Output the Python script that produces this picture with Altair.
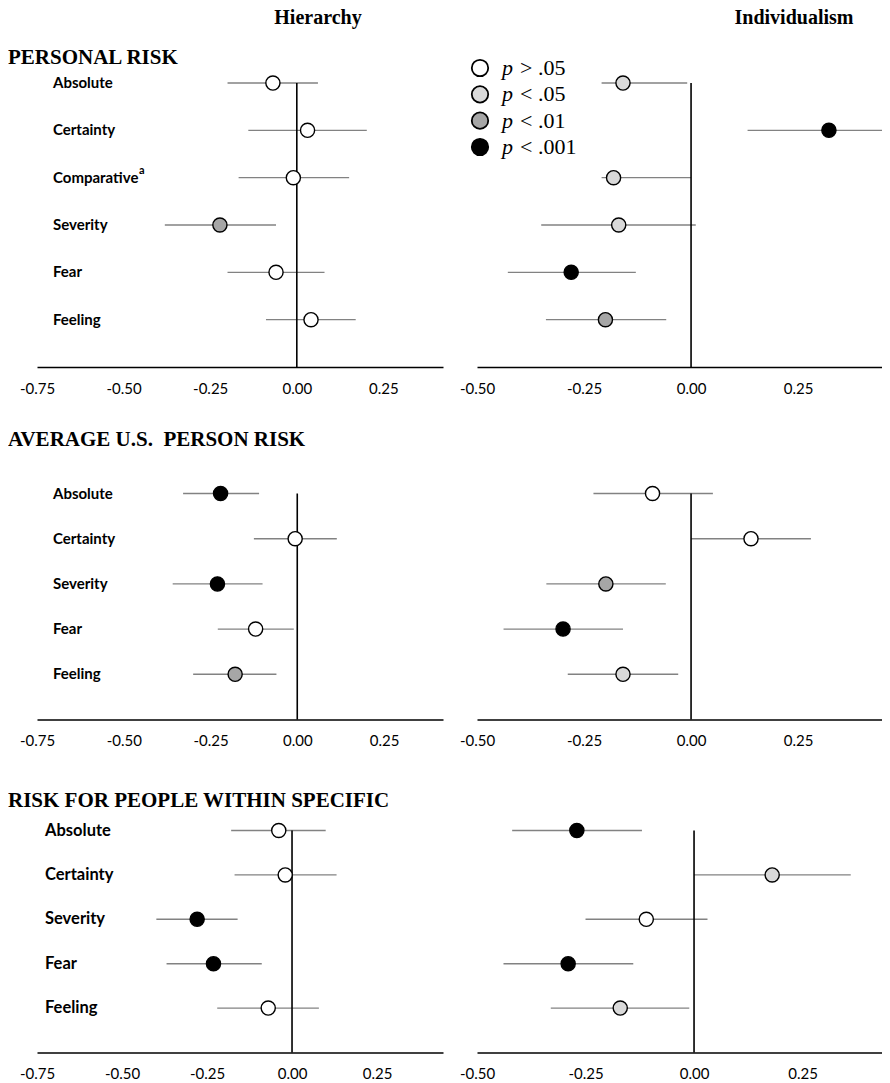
import altair as alt
import pandas as pd

# ---------------- data ----------------
col_headers = ["Hierarchy", "Individualism"]
row_titles = ["PERSONAL RISK", "AVERAGE U.S.\u00a0 PERSON RISK", "RISK FOR PEOPLE WITHIN SPECIFIC"]

cats_personal = ["Absolute", "Certainty", "Comparative", "Severity", "Fear", "Feeling"]
notes_personal = ["", "", "a", "", "", ""]
cats_other = ["Absolute", "Certainty", "Severity", "Fear", "Feeling"]

sig_levels = ["p > .05", "p < .05", "p < .01", "p < .001"]
sig_fill = ["#ffffff", "#d9d9d9", "#a6a6a6", "#000000"]
legend_rest = ["> .05", "< .05", "< .01", "< .001"]

# Personal risk
hier_pers_est = [-0.069, 0.031, -0.010, -0.222, -0.060, 0.041]
hier_pers_lo = [-0.200, -0.140, -0.168, -0.381, -0.200, -0.089]
hier_pers_hi = [0.061, 0.202, 0.151, -0.060, 0.080, 0.170]
hier_pers_sig = ["p > .05", "p > .05", "p > .05", "p < .01", "p > .05", "p > .05"]

ind_pers_est = [-0.159, 0.322, -0.181, -0.169, -0.280, -0.200]
ind_pers_lo = [-0.209, 0.132, -0.209, -0.350, -0.428, -0.339]
ind_pers_hi = [-0.009, 0.510, 0.000, 0.011, -0.129, -0.058]
ind_pers_sig = ["p < .05", "p < .001", "p < .05", "p < .05", "p < .001", "p < .01"]

# Average U.S. person risk
hier_avg_est = [-0.221, -0.006, -0.230, -0.120, -0.179]
hier_avg_lo = [-0.329, -0.125, -0.359, -0.229, -0.300]
hier_avg_hi = [-0.110, 0.114, -0.100, -0.010, -0.060]
hier_avg_sig = ["p < .001", "p > .05", "p < .001", "p > .05", "p < .01"]

ind_avg_est = [-0.090, 0.140, -0.199, -0.299, -0.159]
ind_avg_lo = [-0.228, 0.000, -0.338, -0.438, -0.288]
ind_avg_hi = [0.051, 0.280, -0.059, -0.159, -0.030]
ind_avg_sig = ["p > .05", "p > .05", "p < .01", "p < .001", "p < .05"]

# Risk for people within specific
hier_spec_est = [-0.039, -0.020, -0.279, -0.231, -0.070]
hier_spec_lo = [-0.179, -0.169, -0.399, -0.369, -0.220]
hier_spec_hi = [0.099, 0.131, -0.160, -0.089, 0.079]
hier_spec_sig = ["p > .05", "p > .05", "p < .001", "p < .001", "p > .05"]

ind_spec_est = [-0.270, 0.180, -0.110, -0.290, -0.170]
ind_spec_lo = [-0.419, 0.000, -0.250, -0.439, -0.330]
ind_spec_hi = [-0.120, 0.361, 0.031, -0.140, -0.011]
ind_spec_sig = ["p < .001", "p < .05", "p > .05", "p < .001", "p < .05"]

tick_values_left = [-0.75, -0.50, -0.25, 0.00, 0.25]
tick_values_right = [-0.50, -0.25, 0.00, 0.25]

# ---------------- layout ----------------
LW, RW = 406, 405
HSPACE = 34
VSPACE = 60
SANS = "Lato"
SERIF = "Liberation Serif"

fill_scale = alt.Scale(domain=sig_levels, range=sig_fill)
label_expr = "(datum.value < 0 ? '-' : '') + format(abs(datum.value), '.2f')"


def panel(cats, est, lo, hi, sig, xdomain, ticks, width, height, offset, spacing,
          label_x=None, label_size=15, notes=None, note_x=None,
          title=None, header=None, header_x=None, legend=False):
    n = len(cats)
    df = pd.DataFrame({"cat": cats, "idx": list(range(n)), "est": est,
                       "lo": lo, "hi": hi, "sig": sig})
    d0 = -offset / spacing
    yscale = alt.Scale(domain=[d0, n], reverse=True, nice=False, zero=False)
    xscale = alt.Scale(domain=xdomain, nice=False, zero=False)
    axis = alt.Axis(values=ticks, labelExpr=label_expr, ticks=False, tickSize=0,
                    grid=False, domainColor="black", domainWidth=1.5, title=None,
                    labelFont=SANS, labelFontSize=15, labelColor="black",
                    labelPadding=14, labelFlush=False, labelOverlap=False)
    base = alt.Chart(df)
    bars = base.mark_rule(color="#828282", strokeWidth=1.4, clip=True).encode(
        x=alt.X("lo:Q", scale=xscale, axis=axis), x2="hi:Q",
        y=alt.Y("idx:Q", scale=yscale, axis=None))
    zdf = pd.DataFrame({"z": [0.0], "top": [0], "bottom": [n]})
    zero = alt.Chart(zdf).mark_rule(color="black", strokeWidth=1.6).encode(
        x=alt.X("z:Q", scale=xscale, axis=axis),
        y=alt.Y("top:Q", scale=yscale, axis=None), y2="bottom:Q")
    pts = base.mark_circle(size=200, opacity=1, stroke="black", strokeWidth=1.4).encode(
        x=alt.X("est:Q", scale=xscale, axis=axis),
        y=alt.Y("idx:Q", scale=yscale, axis=None),
        fill=alt.Fill("sig:N", scale=fill_scale, legend=None))
    layers = [bars, zero, pts]
    if label_x is not None:
        layers.append(base.mark_text(align="left", baseline="middle", font=SANS,
                                     fontWeight="bold", fontSize=label_size,
                                     color="black").encode(
            x=alt.value(label_x), y=alt.Y("idx:Q", scale=yscale, axis=None),
            text="cat:N"))
    if notes is not None:
        ndf = pd.DataFrame({"idx": list(range(n)), "note": notes})
        layers.append(alt.Chart(ndf).mark_text(align="left", baseline="middle", font=SANS,
                                               fontWeight="bold", fontSize=11, dy=-7,
                                               color="black").encode(
            x=alt.value(note_x), y=alt.Y("idx:Q", scale=yscale, axis=None),
            text="note:N"))
    if title is not None:
        tdf = pd.DataFrame({"t": [title[0]]})
        layers.append(alt.Chart(tdf).mark_text(align="left", baseline="middle", font=SERIF,
                                               fontWeight="bold", fontSize=21,
                                               color="black").encode(
            x=alt.value(-29), y=alt.value(title[1]), text="t:N"))
    if header is not None:
        hdf = pd.DataFrame({"h": [header[0]]})
        layers.append(alt.Chart(hdf).mark_text(align="center", baseline="middle", font=SERIF,
                                               fontWeight="bold", fontSize=20,
                                               color="black").encode(
            x=alt.value(header_x), y=alt.value(header[1]), text="h:N"))
    independent = False
    if legend:
        ldf = pd.DataFrame({"li": list(range(len(sig_levels))), "sig": sig_levels,
                            "p": ["p"] * len(sig_levels), "rest": legend_rest})
        lscale = alt.Scale(domain=[0, len(sig_levels) - 1], range=[27, 106], nice=False, zero=False)
        lbase = alt.Chart(ldf)
        layers.append(lbase.mark_circle(size=270, opacity=1, stroke="black", strokeWidth=1.8).encode(
            x=alt.value(3), y=alt.Y("li:Q", scale=lscale, axis=None),
            fill=alt.Fill("sig:N", scale=fill_scale, legend=None)))
        layers.append(lbase.mark_text(align="left", baseline="middle", font=SERIF,
                                      fontStyle="italic", fontSize=22, color="black").encode(
            x=alt.value(25), y=alt.Y("li:Q", scale=lscale, axis=None), text="p:N"))
        layers.append(lbase.mark_text(align="left", baseline="middle", font=SERIF,
                                      fontSize=22, color="black").encode(
            x=alt.value(43), y=alt.Y("li:Q", scale=lscale, axis=None), text="rest:N"))
        independent = True
    ch = alt.layer(*layers).properties(width=width, height=height)
    if independent:
        ch = ch.resolve_scale(y="independent")
    return ch


# Row 1
H1 = 326
r1_left = panel(cats_personal, hier_pers_est, hier_pers_lo, hier_pers_hi, hier_pers_sig,
                [-0.75, 0.422], tick_values_left, LW, H1, 42, 47.33,
                label_x=16, label_size=15, notes=notes_personal, note_x=102,
                title=(row_titles[0], 17), header=(col_headers[0], -23), header_x=281)
r1_right = panel(cats_personal, ind_pers_est, ind_pers_lo, ind_pers_hi, ind_pers_sig,
                 [-0.50, 0.446], tick_values_right, RW, H1, 42, 47.33,
                 header=(col_headers[1], -23), header_x=317, legend=True)

# Row 2
H2 = 292.5
r2_left = panel(cats_other, hier_avg_est, hier_avg_lo, hier_avg_hi, hier_avg_sig,
                [-0.75, 0.42], tick_values_left, LW, H2, 66.5, 45.2,
                label_x=16, label_size=15, title=(row_titles[1], 13))
r2_right = panel(cats_other, ind_avg_est, ind_avg_lo, ind_avg_hi, ind_avg_sig,
                 [-0.50, 0.446], tick_values_right, RW, H2, 66.5, 45.2)

# Row 3
H3 = 272.5
r3_left = panel(cats_other, hier_spec_est, hier_spec_lo, hier_spec_hi, hier_spec_sig,
                [-0.75, 0.444], tick_values_left, LW, H3, 50.5, 44.4,
                label_x=8, label_size=16.5, title=(row_titles[2], 20.5))
r3_right = panel(cats_other, ind_spec_est, ind_spec_lo, ind_spec_hi, ind_spec_sig,
                 [-0.50, 0.433], tick_values_right, RW, H3, 50.5, 44.4)

chart = alt.concat(r1_left, r1_right, r2_left, r2_right, r3_left, r3_right,
                   columns=2, spacing={"row": VSPACE, "column": HSPACE},
                   bounds="flush").properties(padding=0).configure_view(stroke=None)

chart.save("out.html", embed_options={"renderer": "svg", "actions": False})
